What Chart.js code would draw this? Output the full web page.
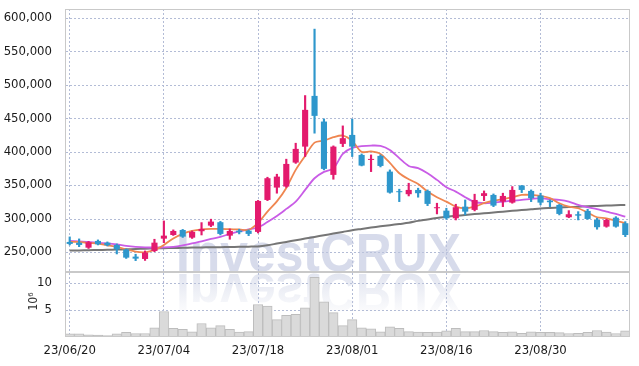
<!DOCTYPE html>
<html>
<head>
<meta charset="utf-8">
<script src="https://cdn.jsdelivr.net/npm/chart.js@4.4.0/dist/chart.umd.min.js"></script>
<style>
  html, body { margin: 0; padding: 0; background: #fff; }
</style>
</head>
<body>
<canvas id="myChart" width="639" height="366"></canvas>
<script>
// trading days, 23/06/20 .. 23/09/12
const dates = [
  '23/06/20','23/06/21','23/06/22','23/06/23','23/06/26','23/06/27','23/06/28','23/06/29','23/06/30',
  '23/07/03','23/07/04','23/07/05','23/07/06','23/07/07','23/07/10','23/07/11','23/07/12','23/07/13','23/07/14',
  '23/07/17','23/07/18','23/07/19','23/07/20','23/07/21','23/07/24','23/07/25','23/07/26','23/07/27','23/07/28','23/07/31',
  '23/08/01','23/08/02','23/08/03','23/08/04','23/08/07','23/08/08','23/08/09','23/08/10','23/08/11','23/08/14',
  '23/08/16','23/08/17','23/08/18','23/08/21','23/08/22','23/08/23','23/08/24','23/08/25','23/08/28','23/08/29',
  '23/08/30','23/08/31','23/09/01','23/09/04','23/09/05','23/09/06','23/09/07','23/09/08','23/09/11','23/09/12'
];

const open = [
  265000,263900,256400,266500,263900,260500,254000,243000,239500,251500,
  269900,275400,282900,271400,281000,289400,294500,274400,281900,281900,
  280000,327800,346300,347800,383700,407600,483500,445100,365300,411700,
  425100,395200,387700,393700,370200,340900,336400,342800,341300,315400,
  311800,300400,317800,312900,333800,335300,325300,323800,349300,341300,
  334300,326800,320400,301900,306400,311400,297900,287900,301300,293000
];
const high = [
  272500,269500,265700,268000,265000,262000,254500,246600,251500,269000,
  296400,283000,283700,281400,293900,299000,295700,284400,284000,283000,
  327100,361800,366300,388800,412700,484000,583400,449100,408700,438600,
  448700,396700,395200,395200,372800,343900,352800,345400,342800,322900,
  315400,321400,327800,336400,341300,336800,337900,347800,349500,342800,
  337900,327800,321100,311800,310300,313900,300400,299000,302800,295400
];
const low = [
  260500,257900,255200,260500,259000,247000,240300,237000,237300,250400,
  263900,274700,271700,270200,275400,287900,275400,269000,277000,274400,
  278400,326800,337900,346600,382500,392700,427700,372800,358800,407600,
  392700,378700,370200,377200,337900,325300,333800,331900,319300,306900,
  298900,297900,305400,311400,326800,317800,317800,322900,338800,325300,
  320400,317800,305400,301200,297900,298900,284000,287000,287000,272900
];
const close = [
  262000,260500,264500,261500,260000,254000,241500,240000,249000,263900,
  274400,281400,272900,280000,284400,295400,277000,281400,279500,277000,
  326300,360300,362700,381700,404200,462600,453600,374300,407600,420200,
  407600,379200,389200,378700,338800,339400,342800,337900,321900,316900,
  300400,316900,310300,327800,337900,319300,333800,342800,342800,330400,
  323800,324400,306900,306400,304300,299400,287000,297900,287900,275400
];

// moving averages
const ma5 = [
  265000,265000,263500,262300,260000,257500,253700,250400,249500,253000,
  260500,270200,277000,281400,283700,284400,284400,284000,283700,282900,
  293400,310300,325600,345800,372800,393700,413600,416600,421700,424100,
  416200,399700,400400,396700,383200,367800,358800,351800,340300,331900,
  325300,317800,315400,317800,322900,326800,328900,331900,335300,335300,
  333800,330400,322900,317800,315400,308800,301900,300400,296900,293000
];
const ma10 = [
  266500,265700,265000,263500,262700,261200,259000,257500,256700,256700,
  256700,257500,259700,262700,265700,269500,272500,277000,280700,283700,
  286700,294900,303900,314400,325300,342800,360300,369800,375000,396700,
  405700,408200,409200,408700,402700,390300,378700,375300,367800,357800,
  346900,340300,331900,324900,322900,323800,325300,326800,327800,329300,
  330400,328900,327800,325300,320400,316900,313900,310300,306900,302800
];
const ma60 = [
  252000,252300,252600,252900,253200,253600,254000,254400,254800,255200,
  255600,255900,256200,256500,256800,257000,257200,257400,257600,257900,
  258300,260000,262500,265000,267500,270000,272500,275000,277500,280000,
  282500,284500,286500,288300,290000,291800,293600,296500,298500,300800,
  302500,304000,305300,306600,307800,309000,310300,311500,312700,313800,
  315000,315800,316500,317100,317700,318300,318900,319400,319900,320400
];

// volume, in millions
const volume = [
  0.6,0.6,0.4,0.35,0.25,0.6,0.85,0.65,0.65,1.7,
  4.7,1.6,1.4,0.95,2.5,1.7,2.1,1.4,0.9,1.0,
  6.0,5.7,3.2,4.0,4.2,5.4,11.0,6.5,4.5,2.1,
  3.2,1.7,1.5,0.95,1.9,1.6,1.0,0.9,0.85,0.9,
  1.15,1.6,1.0,1.0,1.2,1.0,0.85,0.95,0.7,0.95,
  0.85,0.85,0.8,0.65,0.7,0.85,1.2,0.9,0.65,1.15
];

const priceTicks = [250000, 300000, 350000, 400000, 450000, 500000, 550000, 600000];
const volumeTicks = [5, 10];

const UP = '#e31a6d';
const DOWN = '#2e97cc';
const FONT = '"DejaVu Sans Condensed", "DejaVu Sans", sans-serif';
const GRID = '#b3bcd6';

const candleColors = open.map((o, i) => close[i] >= o ? UP : DOWN);

const panels = {
  id: 'panels',
  beforeDatasetsDraw(chart) {
    // watermark and its reflection
    const ctx = chart.ctx;
    const wm = 'InvestCRUX';
    ctx.save();
    ctx.font = 'bold 54px "Liberation Sans", Arial, sans-serif';
    const w = ctx.measureText(wm).width;
    ctx.translate(176, 271);
    ctx.scale(285 / w, 1);
    ctx.fillStyle = 'rgba(190,197,222,0.62)';
    ctx.fillText(wm, 0, 0);
    ctx.scale(1, -1);
    ctx.translate(0, -3);
    const g = ctx.createLinearGradient(0, 0, 0, -38);
    g.addColorStop(0, 'rgba(196,202,224,0.5)');
    g.addColorStop(1, 'rgba(196,202,224,0.05)');
    ctx.fillStyle = g;
    ctx.fillText(wm, 0, 0);
    ctx.restore();
  },
  afterDatasetsDraw(chart) {
    const ctx = chart.ctx;
    const {left, right} = chart.chartArea;

    // horizontal dotted grid, slipped in behind what is already drawn
    ctx.save();
    ctx.globalCompositeOperation = 'destination-over';
    ctx.strokeStyle = GRID;
    ctx.lineWidth = 1;
    ctx.setLineDash([2, 2]);
    [chart.scales.y, chart.scales.yv].forEach(s => {
      priceOrVolume(s).forEach(v => {
        const py = Math.round(s.getPixelForValue(v)) + 0.5;
        ctx.beginPath();
        ctx.moveTo(left + 1, py);
        ctx.lineTo(right - 1, py);
        ctx.stroke();
      });
    });
    ctx.restore();

    ctx.save();
    ctx.strokeStyle = '#c9c9c9';
    ctx.lineWidth = 1;
    [chart.scales.y, chart.scales.yv].forEach(s => {
      ctx.strokeRect(left + 0.5, Math.round(s.top) + 0.5, right - left - 1, Math.round(s.bottom - s.top) - 1);
    });
    ctx.restore();
  },
  afterDraw(chart) {
    const ctx = chart.ctx;
    const s = chart.scales.yv;
    ctx.save();
    ctx.translate(34, (s.top + s.bottom) / 2 - 3);
    ctx.rotate(-Math.PI / 2);
    ctx.font = '12px ' + FONT;
    ctx.fillStyle = '#333';
    ctx.textAlign = 'center';
    ctx.textBaseline = 'middle';
    ctx.fillText('10⁶', 0, 0);
    ctx.restore();
  }
};

function priceOrVolume(s) {
  return s.id === 'y' ? priceTicks : volumeTicks;
}

const tickFont = { family: FONT, size: 13 };

function fitY(s) {
  s.width = 65;
  s.paddingTop = 0;
  s.paddingBottom = 0;
}

new Chart(document.getElementById('myChart').getContext('2d'), {
  type: 'bar',
  data: {
    labels: dates,
    datasets: [
      {
        label: 'body',
        data: open.map((o, i) => [o, close[i]]),
        backgroundColor: candleColors,
        yAxisID: 'y',
        grouped: false,
        barPercentage: 0.65,
        categoryPercentage: 1,
        order: 0
      },
      {
        label: 'wick',
        data: low.map((l, i) => [l, high[i]]),
        backgroundColor: candleColors,
        yAxisID: 'y',
        grouped: false,
        barThickness: 1.5,
        order: 1
      },
      {
        type: 'line',
        label: 'MA5',
        data: ma5,
        yAxisID: 'y',
        borderColor: '#ef8650',
        borderWidth: 1.8,
        pointRadius: 0,
        tension: 0.3,
        order: 2
      },
      {
        type: 'line',
        label: 'MA10',
        data: ma10,
        yAxisID: 'y',
        borderColor: '#c95ce6',
        borderWidth: 1.8,
        pointRadius: 0,
        tension: 0.3,
        order: 3
      },
      {
        type: 'line',
        label: 'MA60',
        data: ma60,
        yAxisID: 'y',
        borderColor: '#767676',
        borderWidth: 2,
        pointRadius: 0,
        tension: 0.3,
        order: 4
      },
      {
        label: 'volume',
        data: volume,
        yAxisID: 'yv',
        backgroundColor: '#dadada',
        borderColor: '#bdbdbd',
        borderWidth: 1,
        grouped: false,
        barPercentage: 1,
        categoryPercentage: 1,
        order: 5
      }
    ]
  },
  options: {
    responsive: false,
    animation: false,
    layout: { padding: { top: 9, right: 9, left: 0, bottom: 0 } },
    plugins: { legend: { display: false }, tooltip: { enabled: false } },
    scales: {
      x: {
        offset: true,
        grid: { offset: false, color: GRID, lineWidth: 1, drawTicks: false },
        border: { display: false, dash: [2, 2] },
        ticks: {
          autoSkip: false,
          maxRotation: 0,
          padding: 6,
          color: '#1a1a1a',
          font: tickFont,
          callback: function (v, i) { return i % 10 === 0 ? this.getLabelForValue(v) : null; }
        },
        afterFit: s => { s.height = 29; s.paddingLeft = 0; s.paddingRight = 0; }
      },
      yv: {
        position: 'left',
        stack: 'panels',
        stackWeight: 65,
        min: 0,
        max: 12,
        grid: { display: false },
        border: { display: false },
        afterBuildTicks: s => { s.ticks = volumeTicks.map(v => ({ value: v })); },
        ticks: {
          autoSkip: false,
          padding: 5,
          color: '#1a1a1a',
          font: tickFont,
          callback: v => String(v)
        },
        afterFit: fitY
      },
      y: {
        position: 'left',
        stack: 'panels',
        stackWeight: 263,
        min: 220000,
        max: 613500,
        grid: { display: false },
        border: { display: false },
        afterBuildTicks: s => { s.ticks = priceTicks.map(v => ({ value: v })); },
        ticks: {
          autoSkip: false,
          padding: 5,
          color: '#1a1a1a',
          font: tickFont,
          callback: v => v.toLocaleString('en-US')
        },
        afterFit: fitY
      }
    }
  },
  plugins: [panels]
});
</script>
</body>
</html>
